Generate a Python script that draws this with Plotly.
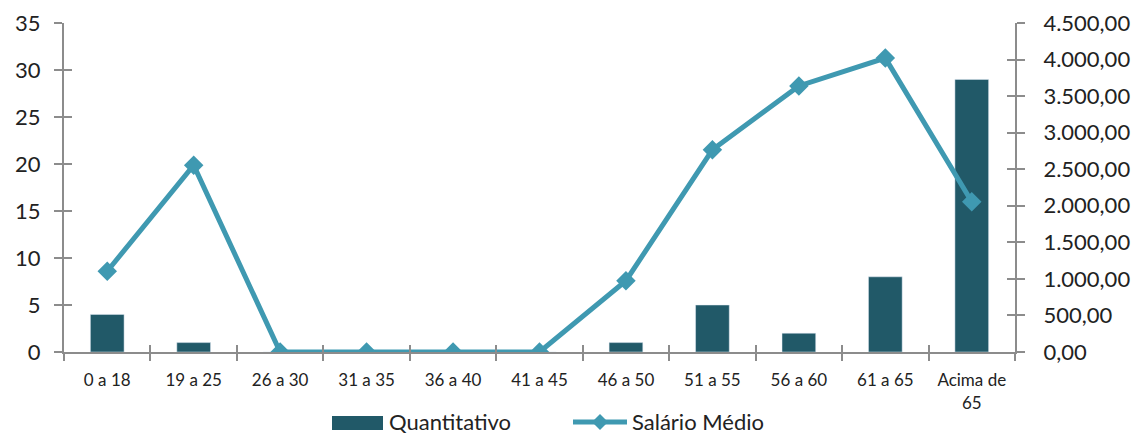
import plotly.graph_objects as go

categorias = ["0 a 18", "19 a 25", "26 a 30", "31 a 35", "36 a 40", "41 a 45",
              "46 a 50", "51 a 55", "56 a 60", "61 a 65", "Acima de<br>65"]
quantitativo = [4, 1, 0, 0, 0, 0, 1, 5, 2, 8, 29]
salario_medio = [1105, 2555, 0, 0, 0, 0, 975, 2765, 3640, 4020, 2055]

left_ticks = [0, 5, 10, 15, 20, 25, 30, 35]
right_ticks = [0, 500, 1000, 1500, 2000, 2500, 3000, 3500, 4000, 4500]
right_labels = ["0,00", "500,00", "1.000,00", "1.500,00", "2.000,00", "2.500,00",
                "3.000,00", "3.500,00", "4.000,00", "4.500,00"]

BAR = "#215968"
LINE = "#3F99B1"
AXIS = "#8C8C8C"
TXT = "#222222"
FONT = "Lato"

OFF = 8  # page body margin
W, H = 1144 - OFF, 434 - OFF
L, R, T, B = 64 - OFF, 129, 23 - OFF, 82
PW, PH = W - L - R, H - T - B
XR = [-0.5, len(categorias) - 0.5]


def px(x):
    return (x - OFF - L) / PW


def py(y):
    return (H - B - (y - OFF)) / PH


fig = go.Figure()
fig.add_trace(go.Bar(x=categorias, y=quantitativo, name="Quantitativo",
                     marker_color=BAR, width=0.39, yaxis="y", showlegend=False))
fig.add_trace(go.Scatter(x=categorias, y=salario_medio, name="Salário Médio",
                         mode="lines+markers", yaxis="y2", showlegend=False,
                         line=dict(color=LINE, width=5),
                         marker=dict(symbol="diamond", size=15, color=LINE)))
# invisible helper traces so the inner tick axes are drawn
fig.add_trace(go.Scatter(x=categorias, y=[None]*len(categorias), xaxis="x2", yaxis="y3",
                         mode="lines", showlegend=False, hoverinfo="skip"))
fig.add_trace(go.Scatter(x=categorias, y=[None]*len(categorias), xaxis="x2", yaxis="y4",
                         mode="lines", showlegend=False, hoverinfo="skip"))

tick_common = dict(tickcolor=AXIS, tickwidth=2, showgrid=False,
                   zeroline=False, automargin=False)

fig.update_layout(
    width=W, height=H,
    margin=dict(l=L, r=R, t=T, b=B),
    plot_bgcolor="white", paper_bgcolor="white",
    font=dict(family=FONT, color=TXT),
    showlegend=False,
    xaxis=dict(range=XR, showline=True, linecolor=AXIS, linewidth=2, ticks="outside",
               ticklen=7, tickson="boundaries",
               tickfont=dict(size=17, family=FONT, color=TXT),
               ticklabelstandoff=12, **tick_common),
    xaxis2=dict(range=XR, overlaying="x", showline=False, ticks="inside", ticklen=7,
                tickson="boundaries", showticklabels=False, **tick_common),
    yaxis=dict(range=[0, 35], tickvals=left_ticks, showline=True, linecolor=AXIS,
               linewidth=2, ticks="outside", ticklen=8,
               tickfont=dict(size=22, family=FONT, color=TXT),
               ticklabelstandoff=9, **tick_common),
    yaxis2=dict(range=[0, 4500], tickvals=right_ticks, ticktext=right_labels,
                overlaying="y", side="right", showline=True, linecolor=AXIS,
                linewidth=2, ticks="outside", ticklen=8,
                tickfont=dict(size=22, family=FONT, color=TXT),
                ticklabelstandoff=14, **tick_common),
    yaxis3=dict(range=[0, 35], tickvals=left_ticks, overlaying="y", side="left",
                ticks="inside", ticklen=8, showticklabels=False, showline=False,
                **tick_common),
    yaxis4=dict(range=[0, 4500], tickvals=right_ticks, overlaying="y", side="right",
                ticks="inside", ticklen=8, showticklabels=False, showline=False,
                **tick_common),
)

# custom legend (bottom centre)
ly = 422
fig.add_shape(type="rect", xref="paper", yref="paper",
              x0=px(332), x1=px(383), y0=py(430), y1=py(416),
              fillcolor=BAR, line=dict(width=0))
fig.add_shape(type="line", xref="paper", yref="paper",
              x0=px(573), x1=px(627), y0=py(ly), y1=py(ly),
              line=dict(color=LINE, width=5))
d = 8
cx = 600
fig.add_shape(type="path", xref="paper", yref="paper",
              path=f"M {px(cx-d)},{py(ly)} L {px(cx)},{py(ly-d)} L {px(cx+d)},{py(ly)} L {px(cx)},{py(ly+d)} Z",
              fillcolor=LINE, line=dict(width=0))
fig.add_annotation(text="Quantitativo", xref="paper", yref="paper",
                   x=px(388), y=py(421), xanchor="left", yanchor="middle",
                   showarrow=False, borderpad=0,
                   font=dict(size=22, family=FONT, color=TXT))
fig.add_annotation(text="Salário Médio", xref="paper", yref="paper",
                   x=px(631), y=py(421), xanchor="left", yanchor="middle",
                   showarrow=False, borderpad=0,
                   font=dict(size=22, family=FONT, color=TXT))

fig.write_html("out.html")
